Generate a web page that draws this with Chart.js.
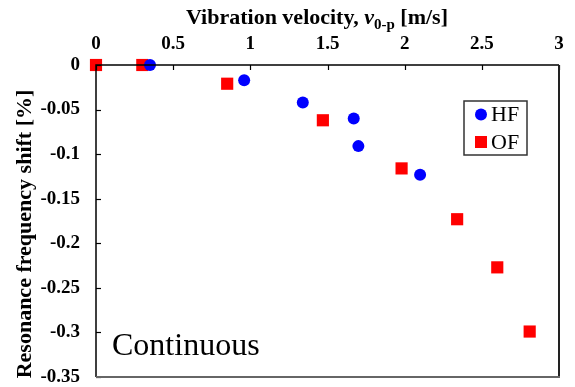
<!DOCTYPE html>
<html lang="en">
<head>
    <meta charset="UTF-8">
    <title>Resonance frequency shift</title>
    <script src="https://cdn.jsdelivr.net/npm/chart.js@4.4.1/dist/chart.umd.min.js"></script>
    <style>
        html, body {
            margin: 0;
            padding: 0;
            background: #fff;
        }
        .wrap {
            width: 575px;
            height: 387px;
        }
    </style>
</head>
<body>
    <div class="wrap"><canvas id="shiftChart" width="575" height="387"></canvas></div>

    <script>
        // Data
        const hfVelocity = [0.35, 0.96, 1.34, 1.67, 1.70, 2.10];
        const hfShift = [0, -0.017, -0.042, -0.060, -0.091, -0.123];
        const ofVelocity = [0, 0.30, 0.85, 1.47, 1.98, 2.34, 2.60, 2.81];
        const ofShift = [0, 0, -0.021, -0.062, -0.116, -0.173, -0.227, -0.299];

        const xTickValues = [0, 0.5, 1, 1.5, 2, 2.5, 3];
        const yTickValues = [0, -0.05, -0.1, -0.15, -0.2, -0.25, -0.3, -0.35];
        const seriesNames = ['HF', 'OF'];

        const serif = "'Liberation Serif', 'Times New Roman', serif";

        function toPoints(xs, ys) {
            return xs.map((x, i) => ({ x: x, y: ys[i] }));
        }

        // no extra room for the end tick labels, the frame is placed by hand
        function noScalePadding(s) {
            s.paddingTop = 0;
            s.paddingBottom = 0;
            s.paddingLeft = 0;
            s.paddingRight = 0;
        }

        // inward tick marks, frame, legend box and the text labels
        const decorPlugin = {
            id: 'decor',
            afterDraw(chart) {
                const ctx = chart.ctx;
                const a = chart.chartArea;
                const xs = chart.scales.x;
                const ys = chart.scales.y;
                ctx.save();

                // tick marks pointing into the plot
                ctx.strokeStyle = '#000';
                ctx.lineWidth = 1.2;
                xs.ticks.forEach(t => {
                    const px = Math.round(xs.getPixelForValue(t.value)) + 0.5;
                    ctx.beginPath();
                    ctx.moveTo(px, a.top);
                    ctx.lineTo(px, a.top + 5);
                    ctx.stroke();
                });
                ys.ticks.forEach(t => {
                    const py = Math.round(ys.getPixelForValue(t.value)) + 0.5;
                    ctx.beginPath();
                    ctx.moveTo(a.left, py);
                    ctx.lineTo(a.left + 5, py);
                    ctx.stroke();
                });

                // frame
                ctx.lineWidth = 1.5;
                ctx.strokeStyle = '#000';
                ctx.beginPath();
                ctx.moveTo(a.left, a.bottom);
                ctx.lineTo(a.left, a.top);
                ctx.lineTo(a.right, a.top);
                ctx.stroke();
                ctx.lineWidth = 2;
                ctx.strokeStyle = '#222';
                ctx.beginPath();
                ctx.moveTo(a.right, a.top);
                ctx.lineTo(a.right, a.bottom);
                ctx.stroke();
                ctx.strokeStyle = '#666';
                ctx.beginPath();
                ctx.moveTo(a.left, a.bottom);
                ctx.lineTo(a.right + 1, a.bottom);
                ctx.stroke();

                // x axis title with italic v and subscript
                const parts = [
                    { text: 'Vibration velocity, ', font: 'bold 22px ' + serif, dy: 0 },
                    { text: 'v', font: 'italic bold 22px ' + serif, dy: 0 },
                    { text: '0-p', font: 'bold 15px ' + serif, dy: 5 },
                    { text: ' [m/s]', font: 'bold 22px ' + serif, dy: 0 }
                ];
                let total = 0;
                parts.forEach(p => { ctx.font = p.font; p.w = ctx.measureText(p.text).width; total += p.w; });
                let tx = 317 - total / 2;
                ctx.fillStyle = '#000';
                ctx.textBaseline = 'alphabetic';
                ctx.textAlign = 'left';
                parts.forEach(p => {
                    ctx.font = p.font;
                    ctx.fillText(p.text, tx, 24 + p.dy);
                    tx += p.w;
                });

                // y axis title
                ctx.save();
                ctx.translate(25, 234);
                ctx.rotate(-Math.PI / 2);
                ctx.font = 'bold 22px ' + serif;
                ctx.textAlign = 'center';
                ctx.textBaseline = 'middle';
                ctx.fillText('Resonance frequency shift [%]', 0, 0);
                ctx.restore();

                // legend
                const lx = a.right - 95, ly = a.top + 36;
                ctx.lineWidth = 1.5;
                ctx.strokeStyle = '#333';
                ctx.fillStyle = '#fff';
                ctx.fillRect(lx, ly, 63, 54);
                ctx.strokeRect(lx, ly, 63, 54);
                ctx.font = '22px ' + serif;
                ctx.textBaseline = 'middle';
                ctx.textAlign = 'left';
                chart.data.datasets.forEach((ds, i) => {
                    const cy = ly + 13.5 + i * 27.5;
                    ctx.fillStyle = ds.backgroundColor;
                    if (ds.pointStyle === 'circle') {
                        ctx.beginPath();
                        ctx.arc(lx + 17, cy, 6, 0, Math.PI * 2);
                        ctx.fill();
                    } else {
                        ctx.fillRect(lx + 11, cy - 6, 12, 12);
                    }
                    ctx.fillStyle = '#000';
                    ctx.fillText(ds.label, lx + 27, cy + 1);
                });

                // panel label
                ctx.font = '32px ' + serif;
                ctx.textBaseline = 'alphabetic';
                ctx.fillText('Continuous', a.left + 16, a.bottom - 22);

                ctx.restore();
            }
        };

        const ctx = document.getElementById('shiftChart').getContext('2d');
        const shiftChart = new Chart(ctx, {
            type: 'scatter',
            data: {
                datasets: [{
                    label: seriesNames[0],
                    data: toPoints(hfVelocity, hfShift),
                    pointStyle: 'circle',
                    pointRadius: 6,
                    pointHoverRadius: 6,
                    backgroundColor: '#0000ff',
                    borderWidth: 0,
                    clip: false
                }, {
                    label: seriesNames[1],
                    data: toPoints(ofVelocity, ofShift),
                    pointStyle: 'rect',
                    pointRadius: 8.6,
                    pointHoverRadius: 8.6,
                    backgroundColor: '#ff0000',
                    borderWidth: 0,
                    clip: false
                }]
            },
            options: {
                responsive: false,
                animation: false,
                layout: {
                    padding: { left: 0, right: 16, top: 0, bottom: 10 }
                },
                plugins: {
                    legend: { display: false },
                    tooltip: { enabled: false }
                },
                scales: {
                    x: {
                        type: 'linear',
                        position: 'top',
                        min: 0,
                        max: 3,
                        afterBuildTicks: s => { s.ticks = xTickValues.map(v => ({ value: v })); },
                        afterFit: s => { s.height = 65; noScalePadding(s); },
                        grid: { display: false, drawTicks: false },
                        border: { display: false },
                        ticks: {
                            padding: 10,
                            color: '#000',
                            font: { family: serif, size: 19, weight: 'bold' },
                            callback: v => String(v)
                        }
                    },
                    y: {
                        type: 'linear',
                        min: -0.35,
                        max: 0,
                        afterBuildTicks: s => { s.ticks = yTickValues.map(v => ({ value: v })); },
                        afterFit: s => { s.width = 96; noScalePadding(s); },
                        grid: { display: false, drawTicks: false },
                        border: { display: false },
                        ticks: {
                            padding: 16,
                            color: '#000',
                            font: { family: serif, size: 19, weight: 'bold' },
                            callback: v => String(v)
                        }
                    }
                }
            },
            plugins: [decorPlugin]
        });
    </script>
</body>
</html>
